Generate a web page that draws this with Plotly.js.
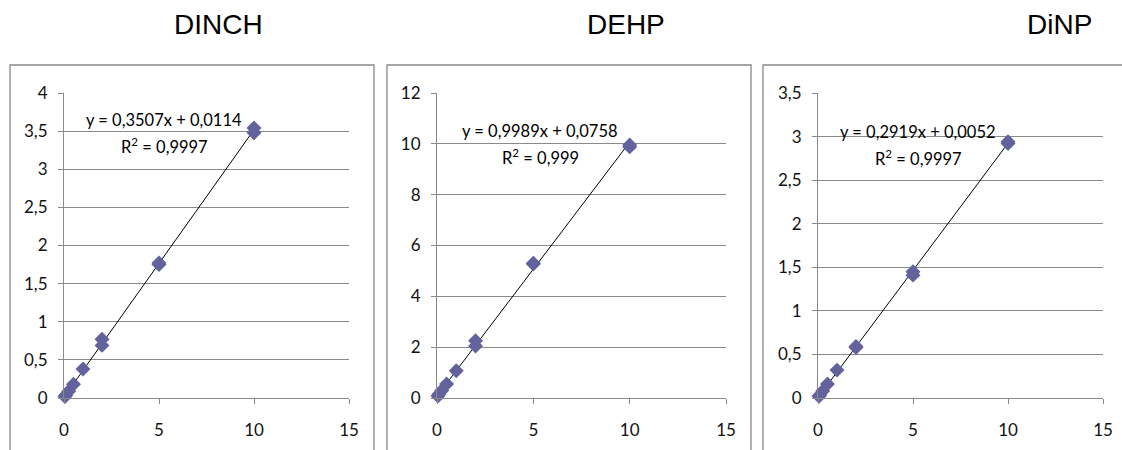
<!DOCTYPE html>
<html><head><meta charset="utf-8">
<script src="https://cdn.plot.ly/plotly-3.0.1.min.js"></script>
<style>html,body{margin:0;padding:0;background:#fff}#chart{width:1122px;height:450px}</style>
</head><body><div id="chart"></div>
<script>
// ---- data ----
const panelTitles = ['DINCH', 'DEHP', 'DiNP'];
const concX = [0.05, 0.1, 0.25, 0.5, 1, 2, 2, 5, 5, 10, 10];
const dinchY = [0.02, 0.04, 0.09, 0.18, 0.38, 0.77, 0.69, 1.77, 1.75, 3.54, 3.48];
const dehpY  = [0.08, 0.15, 0.30, 0.55, 1.07, 2.25, 2.05, 5.30, 5.27, 9.95, 9.88];
const dinpY  = [0.02, 0.035, 0.08, 0.16, 0.32, 0.59, 0.58, 1.45, 1.41, 2.94, 2.92];
const slopes = [0.3507, 0.9989, 0.2919];
const intercepts = [0.0114, 0.0758, 0.0052];
const r2Labels = ['0,9997', '0,999', '0,9997'];
const yMax = [4, 12, 3.5];
const yStep = [0.5, 2, 0.5];
const xMax = 15;
const xStep = 5;

// ---- layout helpers (pixel -> paper) ----
const W = 1122, H = 450;
const px = v => v / W;
const py = v => 1 - v / H;
const plotX = [[64, 349], [437, 726], [818, 1103]];
const plotY = [93, 398];
const boxes = [[10, 374], [387, 751], [763, 1130]];
const titlePos = [218, 626, 1059];
const eqPos = [[164, 120, 146], [540, 131, 157], [918, 132, 158]];

const ys = [dinchY, dehpY, dinpY];
const fmt = v => v.toFixed(4).replace('.', ',');
const traces = [];
const layout = {
  width: W, height: H,
  margin: {l: 0, r: 0, t: 0, b: 0},
  paper_bgcolor: '#fff', plot_bgcolor: '#fff',
  showlegend: false,
  separators: ', ',
  font: {family: 'Lato, sans-serif', size: 17, color: '#111'},
  shapes: [], annotations: []
};
const gray = '#8a8a8a';
const tickFont = {family: 'Lato, sans-serif', size: 17, color: '#111'};
for (let i = 0; i < 3; i++) {
  const s = i === 0 ? '' : String(i + 1);
  const xa = 'x' + s, ya = 'y' + s;
  const xmin = Math.min(...concX), xmaxD = Math.max(...concX);
  traces.push({
    x: [xmin, xmaxD],
    y: [slopes[i] * xmin + intercepts[i], slopes[i] * xmaxD + intercepts[i]],
    xaxis: xa, yaxis: ya, mode: 'lines', type: 'scatter',
    line: {color: '#000', width: 1}, hoverinfo: 'skip'
  });
  traces.push({
    x: concX, y: ys[i], xaxis: xa, yaxis: ya, mode: 'markers', type: 'scatter',
    marker: {symbol: 'diamond', size: 11.5, color: '#62629d', line: {width: 0}},
    cliponaxis: false
  });
  layout['xaxis' + s] = {
    domain: [px(plotX[i][0]), px(plotX[i][1])], anchor: ya,
    range: [0, xMax], dtick: xStep, tick0: 0,
    showgrid: false, zeroline: false, showline: true, linecolor: gray, linewidth: 1,
    ticks: 'outside', ticklen: 5, tickcolor: gray, fixedrange: true,
    ticklabelstandoff: 12, tickfont: tickFont
  };
  layout['yaxis' + s] = {
    domain: [py(plotY[1]), py(plotY[0])], anchor: xa,
    range: [0, yMax[i]], dtick: yStep[i], tick0: 0,
    showgrid: true, gridcolor: gray, gridwidth: 1, zeroline: false,
    showline: true, linecolor: gray, linewidth: 1,
    ticks: 'outside', ticklen: 5, tickcolor: gray, fixedrange: true,
    ticklabelstandoff: 7, tickfont: tickFont
  };
  layout.shapes.push({
    type: 'rect', xref: 'paper', yref: 'paper',
    x0: px(boxes[i][0]), x1: px(boxes[i][1]), y0: py(460), y1: py(65),
    line: {color: '#888', width: 1.3}, fillcolor: 'rgba(0,0,0,0)', layer: 'below'
  });
  layout.annotations.push({
    xref: 'paper', yref: 'paper', x: px(titlePos[i]), y: py(24),
    xanchor: 'center', yanchor: 'middle', showarrow: false,
    text: panelTitles[i],
    font: {family: '"Liberation Sans", Arial, sans-serif', size: 28, color: '#000'}
  });
  layout.annotations.push({
    xref: 'paper', yref: 'paper', x: px(eqPos[i][0]), y: py(eqPos[i][1]),
    xanchor: 'center', yanchor: 'middle', showarrow: false,
    text: 'y = ' + fmt(slopes[i]) + 'x + ' + fmt(intercepts[i]),
    font: {family: 'Lato, sans-serif', size: 16.5, color: '#000'}
  });
  layout.annotations.push({
    xref: 'paper', yref: 'paper', x: px(eqPos[i][0]), y: py(eqPos[i][2]),
    xanchor: 'center', yanchor: 'middle', showarrow: false,
    text: 'R<sup>2</sup> = ' + r2Labels[i],
    font: {family: 'Lato, sans-serif', size: 16.5, color: '#000'}
  });
}
Plotly.newPlot('chart', traces, layout, {staticPlot: true, displayModeBar: false});
</script>
</body></html>
